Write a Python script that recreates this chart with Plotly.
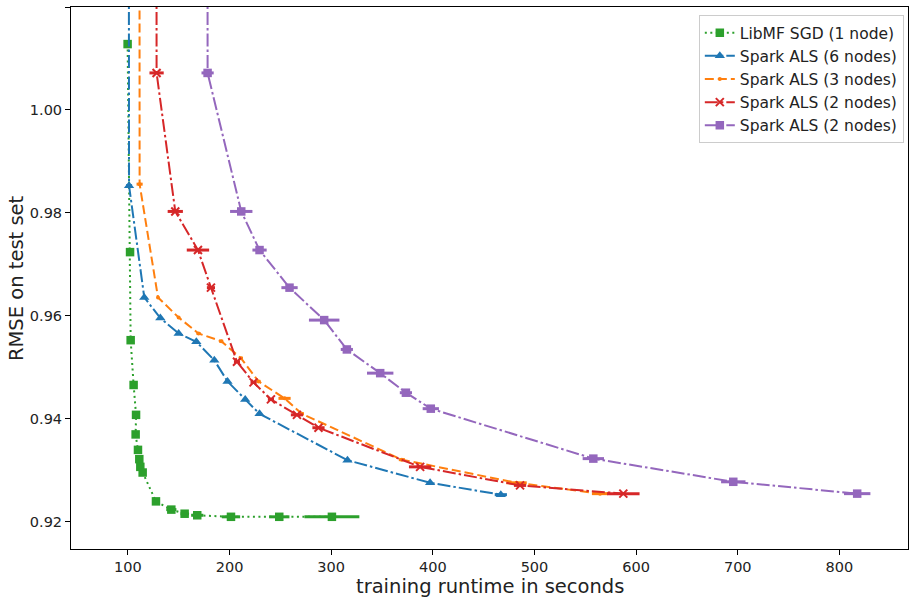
import plotly.graph_objects as go

# Convergence of test RMSE vs. wall-clock training time (mean time with spread)

libmf_time = [99.7, 102.1, 102.7, 105.6, 108.0, 107.6, 109.9, 111.2, 112.2, 114.5,
              127.6, 142.7, 155.8, 168.2, 201.4, 248.9, 300.7]
libmf_rmse = [1.0128, 0.9724, 0.9553, 0.9466, 0.9408, 0.9370, 0.9340, 0.9322, 0.9307,
              0.9296, 0.9240, 0.9224, 0.9216, 0.9213, 0.9210, 0.9210, 0.9210]
libmf_err = [2, 1, 1, 1, 1, 1, 1, 1, 1, 1, 2, 5, 4, 6, 9, 10, 27]

als6_time = [100.7, 101.1, 116.1, 131.9, 149.9, 167.3, 185.0, 198.0, 215.4, 229.5,
             316.0, 397.3, 466.9]
als6_rmse = [1.09, 0.9853, 0.9636, 0.9596, 0.9566, 0.9550, 0.9514, 0.9473, 0.9438,
             0.9410, 0.9320, 0.9276, 0.9253]
als6_err = [0, 3, 2, 2, 2, 2, 2, 2, 2, 2, 2, 2, 6]

als3_time = [111.3, 111.5, 129.6, 149.9, 169.5, 191.8, 211.2, 228.5, 254.1, 271.2,
             369.5, 482.4, 564.5]
als3_rmse = [1.09, 0.9856, 0.9636, 0.9597, 0.9566, 0.9551, 0.9518, 0.9473, 0.9440,
             0.9410, 0.9321, 0.9276, 0.9255]
als3_err = [0, 3, 1, 1, 2, 2, 2, 2, 6, 2, 3, 10, 8]

als2a_time = [128.0, 128.2, 146.6, 168.9, 181.7, 207.3, 223.6, 240.7, 266.3, 287.5,
              387.5, 485.8, 587.4]
als2a_rmse = [1.09, 1.0072, 0.9803, 0.9728, 0.9655, 0.9511, 0.9471, 0.9438, 0.9408,
              0.9383, 0.9307, 0.9271, 0.9255]
als2a_err = [0, 7, 7.5, 11, 4, 3, 3, 3, 6, 6, 11, 6, 16]

als2b_time = [178.2, 178.4, 211.5, 229.5, 259.0, 293.1, 315.4, 348.2, 373.5, 398.0,
              557.9, 695.6, 817.5]
als2b_rmse = [1.09, 1.0072, 0.9803, 0.9728, 0.9655, 0.9592, 0.9535, 0.9489, 0.9451,
              0.9420, 0.9323, 0.9278, 0.9255]
als2b_err = [0, 6, 11, 7, 8, 15, 6, 13, 6, 8, 10.5, 12, 13]

x_ticks = [100, 200, 300, 400, 500, 600, 700, 800]
y_ticks = [0.92, 0.94, 0.96, 0.98, 1.00, 1.02]

x_title = "training runtime in seconds"
y_title = "RMSE on test set"

series = [
    dict(name="LibMF SGD (1 node)", x=libmf_time, y=libmf_rmse, e=libmf_err,
         color="#2ca02c", dash="2px,3.5px", symbol="square", size=8.5),
    dict(name="Spark ALS (6 nodes)", x=als6_time, y=als6_rmse, e=als6_err,
         color="#1f77b4", dash="13px,3px,2.5px,3px", symbol="triangle-up", size=9),
    dict(name="Spark ALS (3 nodes)", x=als3_time, y=als3_rmse, e=als3_err,
         color="#ff7f0e", dash="9px,4px", symbol="circle", size=4),
    dict(name="Spark ALS (2 nodes)", x=als2a_time, y=als2a_rmse, e=als2a_err,
         color="#d62728", dash="13px,3px,2.5px,3px", symbol="x-thin", size=8),
    dict(name="Spark ALS (2 nodes)", x=als2b_time, y=als2b_rmse, e=als2b_err,
         color="#9467bd", dash="13px,3px,2.5px,3px", symbol="square", size=8.5),
]

fig = go.Figure()
for s in series:
    fig.add_trace(go.Scatter(
        x=s["x"], y=s["y"], name=s["name"], mode="lines+markers",
        line=dict(color=s["color"], width=2, dash=s["dash"]),
        marker=dict(symbol=s["symbol"], size=s["size"], color=s["color"],
                    line=dict(color=s["color"], width=2 if s["symbol"] == "x-thin" else 0)),
        error_x=dict(type="data", array=s["e"], color=s["color"], thickness=3, width=0),
    ))

axis_common = dict(
    showline=True, mirror=True, linecolor="black", linewidth=1,
    ticks="outside", ticklen=5, tickcolor="black", showgrid=False, zeroline=False,
    tickfont=dict(family="DejaVu Sans", size=14.5, color="#222"),
)

fig.update_xaxes(range=[44, 867.5], tickvals=x_ticks, **axis_common)
fig.update_yaxes(range=[0.91475, 1.02], tickvals=y_ticks,
                 ticktext=[f"{v:.2f}" for v in y_ticks], **axis_common)

title_font = dict(family="DejaVu Sans", size=19.5, color="#222")
fig.add_annotation(text=x_title, xref="paper", yref="paper", x=0.5, y=-0.069,
                   xanchor="center", yanchor="middle", showarrow=False, font=title_font,
                   borderpad=0)
fig.add_annotation(text=y_title, xref="paper", yref="paper", x=-0.0657, y=0.5,
                   xanchor="center", yanchor="middle", showarrow=False, textangle=-90,
                   font=title_font, borderpad=0)

fig.update_layout(
    width=910, height=597,
    margin=dict(l=71, r=2, t=7, b=48),
    plot_bgcolor="white", paper_bgcolor="white",
    font=dict(family="DejaVu Sans", color="#222"),
    legend=dict(x=0.995, y=0.985, xanchor="right", yanchor="top",
                bgcolor="rgba(255,255,255,0.9)", bordercolor="#cccccc", borderwidth=1,
                font=dict(family="DejaVu Sans", size=15.5, color="#222"),
                tracegroupgap=0, itemwidth=30),
    showlegend=True,
)

fig.write_html("out.html")
